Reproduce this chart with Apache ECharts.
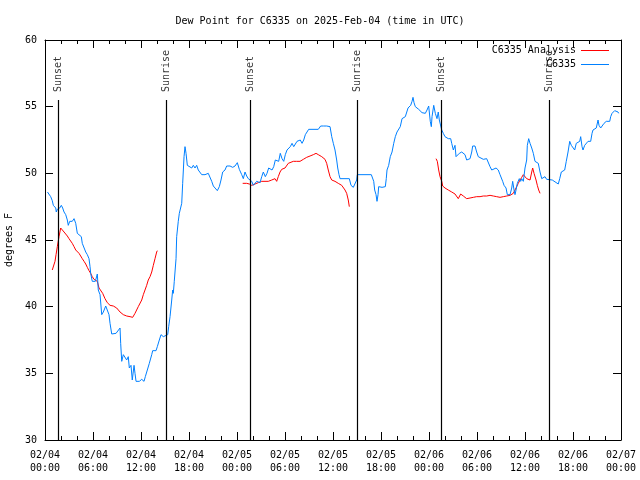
<!DOCTYPE html>
<html>
<head>
<meta charset="utf-8">
<script src="https://cdn.jsdelivr.net/npm/echarts@6/dist/echarts.min.js"></script>
<style>html,body{margin:0;padding:0;background:#fff}#c{width:640px;height:480px}</style>
</head>
<body>
<div id="c"></div>
<script>
// hours after 2025-02-04 00:00 UTC
const tickLabels = ['02/04\n00:00','02/04\n06:00','02/04\n12:00','02/04\n18:00','02/05\n00:00','02/05\n06:00','02/05\n12:00','02/05\n18:00','02/06\n00:00','02/06\n06:00','02/06\n12:00','02/06\n18:00','02/07\n00:00'];

const obsSeries = [[0.31,48.6],[0.71,48.25],[0.91,47.95],[1.04,47.6],[1.34,47.4],[1.41,47.1],[1.54,47.3],[1.84,47.4],[2.04,47.6],[2.21,47.4],[2.38,47.1],[2.59,46.9],[2.79,46.5],[2.91,46.1],[3.09,46.4],[3.41,46.4],[3.63,46.6],[3.84,46.25],[4.04,45.5],[4.25,45.4],[4.54,45.25],[4.66,44.75],[4.88,44.6],[5.09,44.1],[5.29,43.9],[5.5,43.6],[5.63,43.0],[5.71,42.5],[5.91,41.9],[6.09,41.75],[6.29,41.9],[6.54,42.45],[6.66,41.25],[6.88,40.9],[7.09,39.4],[7.29,39.6],[7.59,40.05],[7.84,39.9],[8.0,39.4],[8.13,38.75],[8.34,37.95],[8.54,38.1],[8.88,38.0],[9.09,38.1],[9.38,38.4],[9.46,37.25],[9.59,35.9],[9.79,36.4],[10.0,36.4],[10.21,36.0],[10.41,36.25],[10.54,35.4],[10.75,35.6],[10.91,34.5],[11.13,35.6],[11.25,35.0],[11.38,34.4],[11.79,34.4],[12.09,34.55],[12.38,34.4],[12.54,34.75],[12.79,35.25],[13.04,35.75],[13.34,36.4],[13.46,36.7],[13.88,36.7],[14.04,37.0],[14.29,37.5],[14.5,37.9],[14.79,37.75],[15.04,37.9],[15.34,37.9],[15.46,38.5],[15.63,39.25],[15.84,40.5],[15.96,41.25],[16.04,41.0],[16.16,41.9],[16.38,43.6],[16.46,45.25],[16.66,46.4],[16.79,47.0],[16.96,47.1],[17.09,47.75],[17.21,49.25],[17.38,51.25],[17.5,52.0],[17.63,51.5],[17.79,50.6],[18.04,50.5],[18.34,50.4],[18.54,50.6],[18.75,50.4],[18.96,50.6],[19.16,50.25],[19.59,49.9],[20.0,49.9],[20.41,50.0],[20.63,49.9],[20.84,49.4],[21.04,49.05],[21.25,49.0],[21.54,48.7],[21.79,49.0],[22.0,49.5],[22.21,50.1],[22.5,50.25],[22.71,50.55],[22.91,50.4],[23.13,50.55],[23.46,50.45],[23.75,50.55],[24.04,50.8],[24.29,50.3],[24.59,49.9],[24.79,49.6],[25.0,50.1],[25.21,49.8],[25.41,49.6],[25.63,49.5],[25.84,49.4],[26.04,49.1],[26.25,49.0],[26.46,49.4],[26.66,49.55],[26.88,49.3],[27.09,49.75],[27.29,50.1],[27.54,49.75],[27.75,50.0],[27.96,50.4],[28.16,50.5],[28.38,50.25],[28.59,50.5],[28.79,51.0],[29.0,51.1],[29.21,50.9],[29.41,51.5],[29.63,51.1],[29.84,50.9],[30.04,51.4],[30.25,51.75],[30.46,51.6],[30.66,52.0],[30.88,52.25],[31.09,52.0],[31.29,52.1],[31.5,52.4],[31.71,52.25],[31.91,52.5],[32.13,52.25],[32.34,52.5],[32.54,52.9],[32.75,53.1],[32.96,53.3],[34.16,53.3],[34.46,53.55],[34.63,53.4],[34.79,53.55],[35.0,53.4],[35.21,53.55],[35.41,53.4],[35.63,53.5],[35.84,52.75],[36.04,52.25],[36.25,51.75],[36.46,51.0],[36.59,50.4],[36.75,49.9],[36.88,49.6],[38.04,49.6],[38.25,49.1],[38.54,48.95],[38.75,48.95],[38.96,49.5],[39.04,49.9],[40.79,49.9],[41.09,49.4],[41.21,48.75],[41.38,48.4],[41.5,47.9],[41.63,48.4],[41.71,49.0],[42.13,48.95],[42.54,49.0],[42.66,49.6],[42.75,50.25],[42.96,50.6],[43.16,51.25],[43.38,51.6],[43.59,52.25],[43.79,52.75],[44.0,53.1],[44.21,53.1],[44.41,53.5],[44.63,54.1],[44.84,54.25],[45.04,54.25],[45.16,54.4],[45.38,54.9],[45.54,55.0],[45.71,55.1],[45.88,55.4],[46.0,55.7],[46.13,55.3],[46.29,55.0],[46.5,54.9],[46.71,54.8],[46.91,54.75],[47.13,54.55],[47.34,54.6],[47.54,54.5],[47.75,54.75],[47.96,55.05],[48.16,53.9],[48.29,53.5],[48.38,54.25],[48.59,55.1],[48.79,54.5],[49.0,54.1],[49.16,54.6],[49.29,54.0],[49.38,53.9],[49.59,53.25],[49.79,53.0],[50.0,52.75],[50.21,52.9],[50.41,52.6],[50.63,52.5],[50.71,52.6],[50.84,52.25],[50.96,52.1],[51.04,51.75],[51.25,52.1],[51.38,51.25],[51.54,51.4],[51.79,51.5],[52.09,51.6],[52.29,51.75],[52.5,51.4],[52.71,51.0],[52.91,51.0],[53.13,51.1],[53.34,51.6],[53.46,52.05],[53.75,52.05],[53.96,51.6],[54.16,51.25],[54.38,51.1],[54.79,51.05],[55.21,51.1],[55.41,51.0],[55.63,50.5],[55.84,50.25],[56.04,50.4],[56.38,50.4],[56.66,50.25],[56.88,49.9],[57.09,49.75],[57.21,49.4],[57.38,49.1],[57.63,48.9],[57.79,48.4],[58.13,48.4],[58.34,48.9],[58.46,49.4],[58.63,48.75],[58.75,48.4],[58.88,48.75],[59.04,49.25],[59.29,49.6],[59.46,49.4],[59.59,49.6],[59.79,49.4],[60.0,50.4],[60.21,51.0],[60.29,52.1],[60.46,52.6],[60.63,52.25],[60.84,51.9],[61.04,51.5],[61.25,50.9],[61.46,50.75],[61.66,50.75],[61.88,50.1],[62.09,49.6],[62.29,49.6],[62.5,49.75],[62.71,49.55],[62.88,49.5],[63.41,49.5],[64.16,49.2],[64.34,49.6],[64.54,50.1],[64.96,50.25],[65.16,50.9],[65.38,51.6],[65.59,52.4],[65.79,52.1],[66.0,52.25],[66.21,51.75],[66.41,52.25],[66.63,52.1],[66.84,52.4],[66.96,52.75],[67.13,52.0],[67.25,51.75],[67.46,52.1],[67.66,52.25],[67.88,52.4],[68.21,52.4],[68.38,53.0],[68.5,53.25],[68.71,53.1],[68.91,53.4],[69.13,54.0],[69.25,53.6],[69.46,53.4],[69.63,53.5],[69.88,53.75],[70.16,53.9],[70.38,54.0],[70.59,53.9],[70.71,54.25],[70.88,54.5],[71.21,54.7],[71.41,54.75],[71.63,54.6],[71.71,54.5]];

const analysisSeg1 = [[0.91,42.75],[1.25,43.4],[1.38,43.9],[1.54,44.5],[1.75,45.25],[1.96,45.9],[2.16,45.8],[2.38,45.6],[2.59,45.5],[2.79,45.3],[3.0,45.1],[3.21,45.0],[3.41,44.75],[3.63,44.5],[3.84,44.25],[4.04,44.1],[4.25,44.0],[4.46,43.8],[4.66,43.6],[4.88,43.4],[5.09,43.2],[5.29,42.95],[5.5,42.7],[5.71,42.5],[5.91,42.25],[6.13,42.05],[6.34,42.0],[6.54,41.9],[6.75,41.4],[6.96,41.3],[7.21,41.0],[7.5,40.6],[7.79,40.3],[8.13,40.1],[8.54,40.05],[8.96,39.9],[9.38,39.6],[9.79,39.4],[10.21,39.3],[10.63,39.25],[10.96,39.2],[11.25,39.5],[11.66,40.0],[12.09,40.5],[12.29,40.9],[12.5,41.25],[12.71,41.6],[12.91,42.0],[13.13,42.25],[13.34,42.6],[13.54,43.1],[13.75,43.6],[13.96,44.1],[14.04,44.2]];
const analysisSeg2 = [[24.71,49.25],[25.21,49.25],[25.54,49.2],[25.84,49.1],[26.25,49.2],[26.66,49.3],[27.09,49.4],[27.5,49.4],[27.91,49.4],[28.34,49.5],[28.75,49.6],[28.96,49.4],[29.16,49.75],[29.38,50.1],[29.59,50.3],[30.0,50.4],[30.21,50.55],[30.41,50.75],[30.63,50.8],[31.04,50.9],[31.46,50.9],[31.88,50.9],[32.29,51.05],[32.71,51.2],[33.13,51.3],[33.54,51.4],[33.88,51.5],[34.16,51.4],[34.59,51.25],[35.0,51.05],[35.21,50.75],[35.41,50.25],[35.63,49.75],[35.84,49.5],[36.25,49.4],[36.66,49.25],[37.09,49.1],[37.5,48.75],[37.71,48.5],[37.91,48.0],[38.04,47.5]];
const analysisSeg3 = [[48.88,51.1],[49.04,50.9],[49.21,50.25],[49.38,49.75],[49.59,49.4],[49.71,49.05],[50.0,48.9],[50.41,48.75],[50.84,48.6],[51.25,48.45],[51.66,48.1],[51.96,48.45],[52.29,48.3],[52.71,48.1],[53.13,48.15],[53.54,48.2],[53.96,48.25],[54.38,48.25],[54.79,48.3],[55.21,48.3],[55.63,48.35],[56.04,48.3],[56.46,48.25],[56.88,48.2],[57.29,48.25],[57.71,48.3],[58.13,48.35],[58.54,48.5],[58.75,48.75],[58.96,49.0],[59.16,49.25],[59.38,49.5],[59.59,49.7],[59.79,49.9],[60.0,49.75],[60.21,49.6],[60.41,49.75],[60.63,49.5],[60.84,50.1],[60.96,50.4],[61.13,50.0],[61.38,49.5],[61.54,49.1],[61.71,48.75],[61.88,48.5]];

const sunEventHours = [1.66, 15.12, 25.67, 39.04, 49.59, 63.04];
const sunEventNames = ['Sunset','Sunrise','Sunset','Sunrise','Sunset','Sunrise'];
const sunLineTop = 55.5;
const sunLabelBase = 56.1;

const FONT = 'DejaVu Sans Mono';
const RED = '#ff0000';
const BLUE = '#0080ff';
const analysisData = analysisSeg1.concat([['-','-']], analysisSeg2, [['-','-']], analysisSeg3);

const chart = echarts.init(document.getElementById('c'), null, {renderer: 'canvas'});
const axisCommon = {
  type: 'value', min: 0, max: 72, interval: 6,
  axisLine: {show: true, onZero: false, lineStyle: {color: '#000', width: 1}},
  axisTick: {show: true, inside: true, length: 8, lineStyle: {color: '#000'}},
  minorTick: {show: true, splitNumber: 3, length: 4, lineStyle: {color: '#000'}},
  splitLine: {show: false}
};
const yCommon = {
  type: 'value', min: 30, max: 60, interval: 5,
  axisLine: {show: true, onZero: false, lineStyle: {color: '#000', width: 1}},
  axisTick: {show: true, inside: true, length: 8, lineStyle: {color: '#000'}},
  splitLine: {show: false}
};
chart.setOption({
  animation: false,
  backgroundColor: '#fff',
  textStyle: {fontFamily: FONT},
  title: {
    text: 'Dew Point for C6335 on 2025-Feb-04 (time in UTC)',
    left: 'center', top: 11,
    textStyle: {fontFamily: FONT, fontSize: 10, fontWeight: 'normal', color: '#000'}
  },
  legend: {
    orient: 'vertical', right: 26, top: 40, align: 'right',
    itemWidth: 28, itemHeight: 1, itemGap: 3,
    icon: 'rect',
    data: [
      {name: 'C6335 Analysis', itemStyle: {color: RED}},
      {name: 'C6335', itemStyle: {color: BLUE}}
    ],
    textStyle: {fontFamily: FONT, fontSize: 10, color: '#000', lineHeight: 11}
  },
  grid: {left: 45, right: 19, top: 40, bottom: 40, containLabel: false, outerBoundsMode: 'none'},
  xAxis: [
    Object.assign({}, axisCommon, {
      position: 'bottom',
      axisLabel: {
        color: '#000', fontFamily: FONT, fontSize: 10, lineHeight: 13, margin: 9,
        formatter: v => tickLabels[Math.round(v / 6)]
      }
    }),
    Object.assign({}, axisCommon, {position: 'top', axisLabel: {show: false}})
  ],
  yAxis: [
    Object.assign({}, yCommon, {
      position: 'left',
      name: 'degrees F', nameLocation: 'middle', nameGap: 30, nameRotate: 90,
      nameTextStyle: {fontFamily: FONT, fontSize: 10, color: '#000'},
      axisLabel: {color: '#000', fontFamily: FONT, fontSize: 10, margin: 8}
    }),
    Object.assign({}, yCommon, {position: 'right', axisLabel: {show: false}})
  ],
  series: [
    {
      name: 'C6335 Analysis', type: 'line', data: analysisData,
      showSymbol: false, connectNulls: false,
      lineStyle: {color: RED, width: 1}, itemStyle: {color: RED}, z: 3
    },
    {
      name: 'C6335', type: 'line', data: obsSeries,
      showSymbol: false,
      lineStyle: {color: BLUE, width: 1}, itemStyle: {color: BLUE}, z: 4
    },
    {
      name: 'sun', type: 'line', data: [], silent: true,
      markLine: {
        silent: true, symbol: ['none', 'none'], animation: false,
        label: {show: false},
        lineStyle: {color: '#000', width: 1.2, type: 'solid'},
        data: sunEventHours.map(h => [{coord: [h, 30]}, {coord: [h, sunLineTop]}])
      }
    },
    {
      name: 'sunlabels', type: 'scatter', symbolSize: 0, silent: true,
      data: sunEventHours.map((h, i) => ({value: [h, sunLabelBase], name: sunEventNames[i]})),
      label: {
        show: true, formatter: p => p.name, rotate: 90, position: [0, 0],
        align: 'left', verticalAlign: 'middle',
        fontFamily: FONT, fontSize: 10, color: '#000'
      }
    }
  ]
});
</script>
</body>
</html>
